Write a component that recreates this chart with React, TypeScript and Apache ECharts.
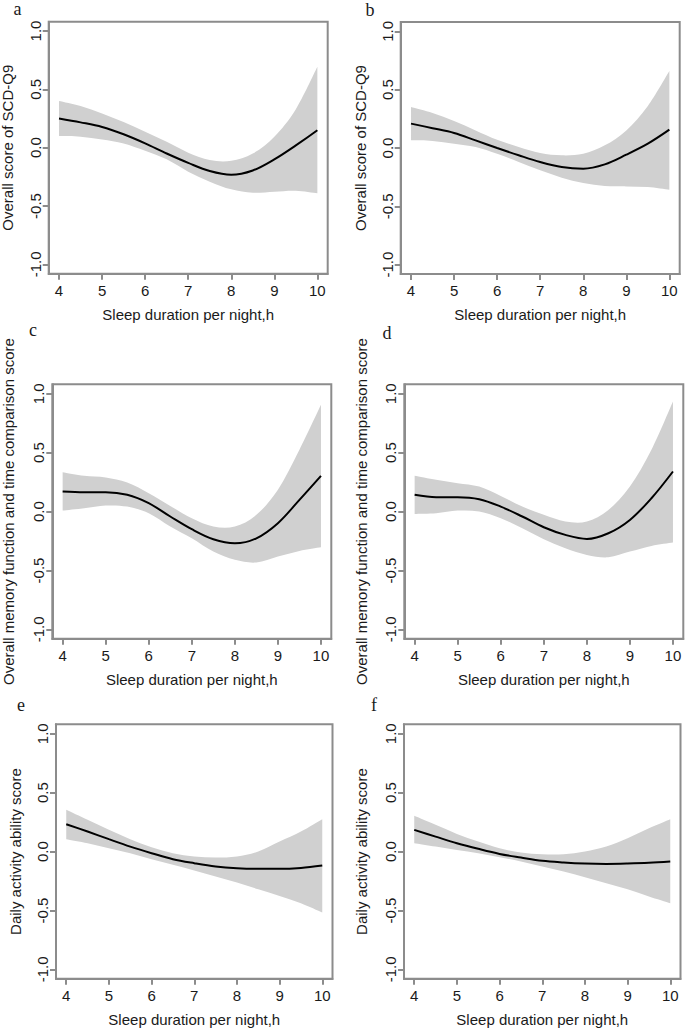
import React, { useEffect, useRef } from "react";
import * as echarts from "echarts";

// Sleep duration (h)
const hours = [4, 4.5, 5, 5.5, 6, 6.5, 7, 7.5, 8, 8.5, 9, 9.5, 10];
const xTicks = [4, 5, 6, 7, 8, 9, 10];
const yTicks = [-1, -0.5, 0, 0.5, 1];

// Panel a: Overall score of SCD-Q9
const fitA = [0.25, 0.217, 0.178, 0.115, 0.037, -0.05, -0.13, -0.2, -0.232, -0.195, -0.1, 0.02, 0.15];
const upperA = [0.4, 0.357, 0.294, 0.22, 0.137, 0.05, -0.043, -0.106, -0.112, -0.05, 0.094, 0.33, 0.694];
const lowerA = [0.1, 0.094, 0.071, 0.037, -0.026, -0.1, -0.206, -0.291, -0.357, -0.386, -0.377, -0.369, -0.391];

// Panel b: Overall score of SCD-Q9
const fitB = [0.209, 0.17, 0.129, 0.065, 0.0, -0.062, -0.12, -0.163, -0.177, -0.14, -0.057, 0.037, 0.157];
const upperB = [0.351, 0.3, 0.231, 0.151, 0.071, 0.009, -0.043, -0.063, -0.049, 0.023, 0.151, 0.36, 0.66];
const lowerB = [0.066, 0.06, 0.037, 0.009, -0.049, -0.12, -0.191, -0.254, -0.3, -0.326, -0.329, -0.334, -0.357];

// Panel c: Overall memory function and time comparison score
const fitC = [0.17, 0.164, 0.164, 0.142, 0.071, -0.042, -0.15, -0.235, -0.269, -0.227, -0.099, 0.099, 0.303];
const upperC = [0.334, 0.303, 0.289, 0.246, 0.156, 0.048, -0.057, -0.127, -0.127, -0.028, 0.184, 0.524, 0.906];
const lowerC = [0.008, 0.028, 0.051, 0.042, -0.014, -0.127, -0.227, -0.34, -0.41, -0.433, -0.382, -0.334, -0.303];

// Panel d: Overall memory function and time comparison score
const fitD = [0.142, 0.122, 0.122, 0.105, 0.042, -0.042, -0.133, -0.198, -0.232, -0.184, -0.071, 0.113, 0.34];
const upperD = [0.303, 0.269, 0.241, 0.212, 0.133, 0.042, -0.028, -0.085, -0.085, 0.014, 0.212, 0.524, 0.935];
const lowerD = [-0.02, -0.014, 0.008, 0.0, -0.057, -0.142, -0.235, -0.312, -0.368, -0.388, -0.34, -0.292, -0.263];

// Panel e: Daily activity ability score
const fitE = [0.232, 0.17, 0.105, 0.042, -0.014, -0.065, -0.099, -0.127, -0.142, -0.147, -0.147, -0.139, -0.119];
const upperE = [0.354, 0.269, 0.184, 0.105, 0.037, -0.014, -0.042, -0.051, -0.042, 0.0, 0.085, 0.17, 0.275];
const lowerE = [0.105, 0.071, 0.028, -0.014, -0.065, -0.113, -0.161, -0.212, -0.263, -0.32, -0.377, -0.439, -0.518];

// Panel f: Daily activity ability score
const fitF = [0.184, 0.127, 0.071, 0.023, -0.02, -0.051, -0.079, -0.093, -0.102, -0.105, -0.102, -0.096, -0.085];
const upperF = [0.303, 0.227, 0.15, 0.085, 0.028, -0.008, -0.023, -0.023, 0.0, 0.042, 0.113, 0.198, 0.275];
const lowerF = [0.071, 0.042, 0.014, -0.014, -0.048, -0.085, -0.127, -0.17, -0.218, -0.269, -0.32, -0.382, -0.439];

const panelLetters = ["a", "b", "c", "d", "e", "f"];
const yTitles = [
  "Overall score of SCD-Q9",
  "Overall score of SCD-Q9",
  "Overall memory function and time comparison score",
  "Overall memory function and time comparison score",
  "Daily activity ability score",
  "Daily activity ability score",
];
const xTitle = "Sleep duration per night,h";

const panels = [
  { fit: fitA, upper: upperA, lower: lowerA },
  { fit: fitB, upper: upperB, lower: lowerB },
  { fit: fitC, upper: upperC, lower: lowerC },
  { fit: fitD, upper: upperD, lower: lowerD },
  { fit: fitE, upper: upperE, lower: lowerE },
  { fit: fitF, upper: upperF, lower: lowerF },
];

// layout (pixels)
const grids = [
  { left: 48.7, top: 21.7, width: 279, height: 252 },
  { left: 400.7, top: 22, width: 279, height: 252 },
  { left: 52.3, top: 384.3, width: 279, height: 254.5 },
  { left: 404.3, top: 384.3, width: 279, height: 254.5 },
  { left: 56, top: 724.3, width: 276.5, height: 254.5 },
  { left: 404, top: 724.3, width: 276.5, height: 254.5 },
];
// letter centre x, text box top y
const letterPos = [
  [17.5, 0], [370, 0.5], [33, 320.5], [387, 323.5], [21, 695.5], [374, 695.5],
];
const yTitleX = [7, 360, 8, 361, 15, 361];

const SANS = "Liberation Sans";
const SERIF = "Liberation Serif";
const LINE = "#8c8c8c";
const LINE_W = 2;
const TEXT = "#1a1a1a";

// smooth path (Catmull-Rom -> cubic Bezier) through pixel points
function smoothSegs(pts: number[][], start: boolean): string {
  let d = start ? `M${pts[0][0]},${pts[0][1]}` : `L${pts[0][0]},${pts[0][1]}`;
  for (let i = 0; i < pts.length - 1; i++) {
    const p0 = pts[i - 1] || pts[i];
    const p1 = pts[i];
    const p2 = pts[i + 1];
    const p3 = pts[i + 2] || p2;
    const c1x = p1[0] + (p2[0] - p0[0]) / 6;
    const c1y = p1[1] + (p2[1] - p0[1]) / 6;
    const c2x = p2[0] - (p3[0] - p1[0]) / 6;
    const c2y = p2[1] - (p3[1] - p1[1]) / 6;
    d += `C${c1x},${c1y} ${c2x},${c2y} ${p2[0]},${p2[1]}`;
  }
  return d;
}

export default function App() {
  const ref = useRef<HTMLDivElement>(null);
  useEffect(() => {
    if (!ref.current) return;
    const chart = echarts.init(ref.current, undefined, { renderer: "svg" });

    const xAxis: any[] = [];
    const yAxis: any[] = [];
    const series: any[] = [];
    const graphic: any[] = [];

    grids.forEach((g, i) => {
      xAxis.push({
        type: "value",
        gridIndex: i,
        min: 3.76,
        max: 10.24,
        axisLine: { show: true, onZero: false, lineStyle: { color: LINE, width: LINE_W } },
        axisTick: { show: true, length: 6, customValues: xTicks, lineStyle: { color: LINE, width: LINE_W } },
        axisLabel: {
          customValues: xTicks,
          color: TEXT,
          fontSize: 15,
          fontFamily: SANS,
          margin: 9,
        },
        splitLine: { show: false },
        name: xTitle,
        nameLocation: "middle",
        nameGap: 33,
        nameTextStyle: { color: TEXT, fontSize: 15, fontFamily: SANS },
      });
      yAxis.push({
        type: "value",
        gridIndex: i,
        min: -1.08,
        max: 1.08,
        axisLine: { show: true, onZero: false, lineStyle: { color: LINE, width: LINE_W } },
        axisTick: { show: true, length: 6, customValues: yTicks, lineStyle: { color: LINE, width: LINE_W } },
        axisLabel: {
          customValues: yTicks,
          rotate: 90,
          color: TEXT,
          fontSize: 15,
          fontFamily: SANS,
          margin: 6,
          formatter: (v: number) => v.toFixed(1),
        },
        splitLine: { show: false },
      });

      const p = panels[i];
      series.push({
        type: "custom",
        xAxisIndex: i,
        yAxisIndex: i,
        silent: true,
        data: hours.map((h, k) => [h, p.upper[k], p.lower[k]]),
        encode: { x: 0, y: [1, 2] },
        renderItem: (params: any, api: any) => {
          if (params.dataIndex !== 0) return null;
          const up = hours.map((h, k) => api.coord([h, p.upper[k]]));
          const lo = hours.map((h, k) => api.coord([h, p.lower[k]])).reverse();
          const d = smoothSegs(up, true) + smoothSegs(lo, false) + "Z";
          return {
            type: "path",
            shape: { pathData: d },
            style: { fill: "#d0d0d0", stroke: "none" },
          };
        },
        z: 1,
      });
      series.push({
        type: "line",
        xAxisIndex: i,
        yAxisIndex: i,
        smooth: 0.35,
        symbol: "none",
        lineStyle: { color: "#000", width: 2 },
        data: hours.map((h, k) => [h, p.fit[k]]),
        z: 5,
      });

      graphic.push({
        type: "text",
        x: letterPos[i][0],
        y: letterPos[i][1],
        style: {
          text: panelLetters[i],
          fill: TEXT,
          fontSize: 18,
          fontFamily: SERIF,
          textAlign: "center",
          textVerticalAlign: "top",
        },
      });
      graphic.push({
        type: "text",
        x: yTitleX[i],
        y: g.top + g.height / 2,
        rotation: Math.PI / 2,
        style: {
          text: yTitles[i],
          fill: TEXT,
          fontSize: 15,
          fontFamily: SANS,
          textAlign: "center",
          textVerticalAlign: "middle",
        },
      });
    });

    chart.setOption({
      animation: false,
      backgroundColor: "#fff",
      grid: grids.map((g) => ({ ...g, show: true, borderColor: LINE, borderWidth: LINE_W })),
      xAxis,
      yAxis,
      series,
      graphic,
    });
    return () => chart.dispose();
  }, []);
  return <div ref={ref} style={{ position: "fixed", left: 0, top: 0, width: 685, height: 1030 }} />;
}
